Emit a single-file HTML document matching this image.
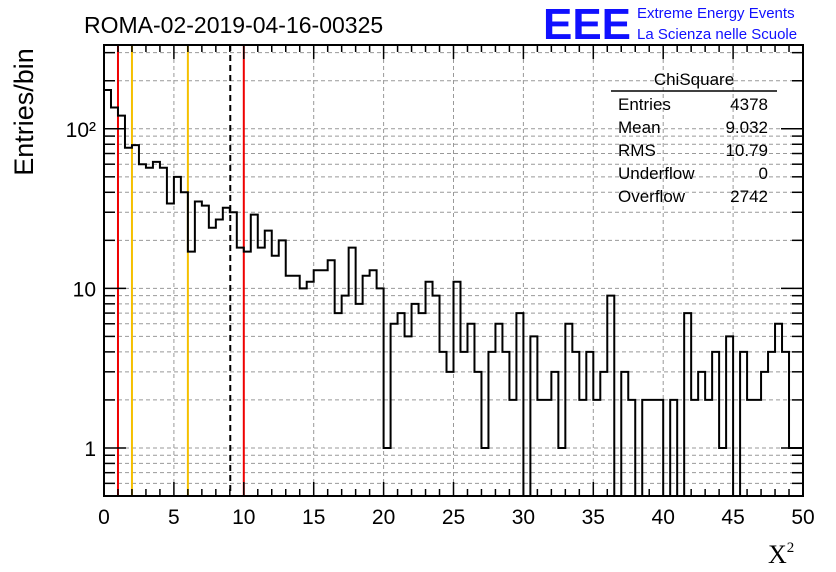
<!DOCTYPE html>
<html><head><meta charset="utf-8"><style>
body{margin:0;background:#fff;}
svg{display:block;font-family:"Liberation Sans",sans-serif;}
</style></head><body>
<svg id="c" width="836" height="572">
<defs><clipPath id="pc"><rect x="100" y="40" width="710" height="457"/></clipPath></defs>
<text x="84" y="33" font-size="23">ROMA-02-2019-04-16-00325</text>
<text x="543" y="39" font-size="44" font-weight="bold" fill="#1010ff" textLength="88" lengthAdjust="spacingAndGlyphs">EEE</text>
<text x="637" y="18" font-size="15" fill="#1010ff">Extreme Energy Events</text>
<text x="637" y="39" font-size="15" fill="#1010ff">La Scienza nelle Scuole</text>
<text transform="translate(33,112) rotate(-90)" font-size="27" text-anchor="middle">Entries/bin</text>
<text x="768" y="563" font-size="26" font-family="Liberation Serif,serif">X<tspan font-size="15" dy="-11">2</tspan></text>
<g id="grid"></g><g id="lines"></g><g id="hist" clip-path="url(#pc)"></g><g id="axes"></g>
<g font-size="17">
<text x="694" y="85" text-anchor="middle">ChiSquare</text>
<line x1="611" y1="91" x2="777" y2="91" stroke="#000" stroke-width="1.5"/>
<text x="618" y="110">Entries</text><text x="768" y="110" text-anchor="end">4378</text>
<text x="618" y="133">Mean</text><text x="768" y="133" text-anchor="end">9.032</text>
<text x="618" y="156">RMS</text><text x="768" y="156" text-anchor="end">10.79</text>
<text x="618" y="179">Underflow</text><text x="768" y="179" text-anchor="end">0</text>
<text x="618" y="202">Overflow</text><text x="768" y="202" text-anchor="end">2742</text>
</g>
</svg>
<script>
const counts=[175,136,121,76,79,60,57,62,57,34,50,40,17,35,33,24,27,32,30,18,17,29,18,23,16,20,12,12,10,11,13,13,15,7,9,18,8,12,13,10,1,6,7,5,8,7,11,9,4,3,11,4,6,3,1,4,6,4,2,7,0,5,2,2,3,1,6,4,2,4,2,3,9,0,3,2,0,2,2,2,0,2,0,7,2,3,2,4,1,5,0,4,2,2,3,4,6,4,1,1];
const xTicks=[0,5,10,15,20,25,30,35,40,45,50];
const yTicks=[1,10,100];
const yTickLabels=["1","10","10²"];
const refLines=[1,2,6,9.032,10];
const refColors=["#e00","#f5c000","#f5c000","#000","#e00"];
const NS="http://www.w3.org/2000/svg";
const L=104,R=803,T=45,B=496,XMIN=0,XMAX=50,YMIN=0.5,YMAX=335;
const X=v=>L+(v-XMIN)/(XMAX-XMIN)*(R-L);
const Y=v=>B-(Math.log10(v)-Math.log10(YMIN))/(Math.log10(YMAX)-Math.log10(YMIN))*(B-T);
function mk(tag,a,p){const e=document.createElementNS(NS,tag);for(const k in a)e.setAttribute(k,a[k]);p.appendChild(e);return e;}
const grid=document.getElementById('grid'),lines=document.getElementById('lines'),hist=document.getElementById('hist'),axes=document.getElementById('axes');
xTicks.forEach(v=>{if(v>0&&v<50){const g=mk('line',{x1:X(v),x2:X(v),y1:T,y2:B,stroke:'#999','stroke-dasharray':'4,3'},grid);

}});
for(let d=0.1;d<=100;d*=10)for(let m=1;m<10;m++){const v=d*m;if(v<YMIN||v>YMAX)continue;const g=mk('line',{x1:L,x2:R,y1:Y(v),y2:Y(v),stroke:'#999','stroke-dasharray':'4,3'},grid);

}
refLines.forEach((v,i)=>{const l=mk('line',{x1:X(v),x2:X(v),y1:T,y2:B,stroke:refColors[i],'stroke-width':2},lines);if(i==3)l.setAttribute('stroke-dasharray','6,4');

});
const bw=(XMAX-XMIN)/counts.length;let d='';
counts.forEach((c,i)=>{const y=c>0?Y(c):B+5;const x0=X(i*bw),x1=X((i+1)*bw);d+=(i==0?'M'+x0+','+y:'L'+x0+','+y)+'L'+x1+','+y;});
d+='L'+R+','+B;
const h=mk('path',{d:d,fill:'none',stroke:'#000','stroke-width':2},hist);


const f=mk('rect',{x:L,y:T,width:R-L,height:B-T,fill:'none',stroke:'#000','stroke-width':2},axes);


for(let v=0;v<=50;v++){const len=v%5==0?14:7;mk('line',{x1:X(v),x2:X(v),y1:B,y2:B-len,stroke:'#000','stroke-width':1.5},axes);mk('line',{x1:X(v),x2:X(v),y1:T,y2:T+len,stroke:'#000','stroke-width':1.5},axes);}
xTicks.forEach(v=>{const t=mk('text',{x:X(v),y:524,'font-size':21,'text-anchor':'middle'},axes);t.textContent=v;

});
for(let dd=0.1;dd<=100;dd*=10)for(let m=1;m<10;m++){const v=dd*m;if(v<YMIN||v>YMAX)continue;const len=m==1?22:11;mk('line',{x1:L,x2:L+len,y1:Y(v),y2:Y(v),stroke:'#000','stroke-width':1.5},axes);mk('line',{x1:R,x2:R-len,y1:Y(v),y2:Y(v),stroke:'#000','stroke-width':1.5},axes);}
yTicks.forEach((v,i)=>{const t=mk('text',{x:96,y:Y(v)+8,'font-size':21,'text-anchor':'end'},axes);t.textContent=yTickLabels[i];

});
</script>
</body></html>
